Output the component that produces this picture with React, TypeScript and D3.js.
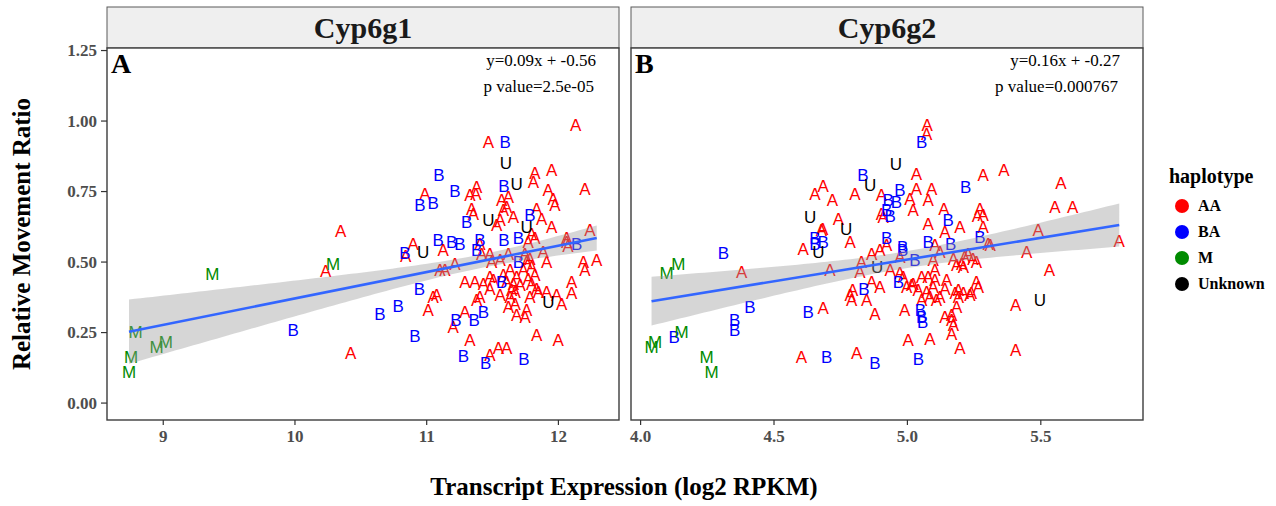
import React from "react";
import * as d3 from "d3";

type Pt = [number, number];

// ---------- legend / categories ----------
const haplotypes = ["AA", "BA", "M", "Unknown"];
const hapLetters = ["A", "B", "M", "U"];
const hapColors = ["#FF0000", "#0000FF", "#008B00", "#000000"];

// ---------- Cyp6g1 (panel A) ----------
const g1M: Pt[] = [[8.79,0.253],[8.95,0.20],[9.02,0.217],[8.755,0.164],[8.74,0.111],[9.372,0.457],[10.29,0.495]];
const g1U: Pt[] = [[10.974,0.536],[11.602,0.852],[11.683,0.776],[11.468,0.648],[11.759,0.625],[11.923,0.359]];
const g1BA: Pt[] = [[9.987,0.261],[10.645,0.318],[10.784,0.344],[10.911,0.237],[10.835,0.533],[10.944,0.406],[11.595,0.926],[11.093,0.808],[11.587,0.769],[11.215,0.752],[10.949,0.702],[11.05,0.71],[11.784,0.666],[11.304,0.642],[12.139,0.566],[11.088,0.578],[11.19,0.572],[11.253,0.566],[11.38,0.542],[11.405,0.578],[11.222,0.294],[11.36,0.294],[11.431,0.324],[11.278,0.167],[11.448,0.141],[11.739,0.155],[11.696,0.584],[11.587,0.578],[11.696,0.501],[11.57,0.43]];
const g1AA: Pt[] = [[10.233,0.469],[10.347,0.611],[10.423,0.178],[10.84,0.521],[10.898,0.566],[11.468,0.926],[12.131,0.985],[11.949,0.828],[11.822,0.816],[11.81,0.784],[12.202,0.761],[11.38,0.766],[11.329,0.737],[11.374,0.743],[10.987,0.743],[11.923,0.755],[11.961,0.725],[11.974,0.702],[11.569,0.722],[11.62,0.731],[11.607,0.696],[11.582,0.684],[11.658,0.66],[11.342,0.69],[11.354,0.672],[11.835,0.69],[11.873,0.654],[11.949,0.625],[11.532,0.631],[11.557,0.648],[11.797,0.601],[12.24,0.613],[12.063,0.584],[11.405,0.566],[11.126,0.542],[11.101,0.471],[11.139,0.471],[11.215,0.495],[11.05,0.377],[11.076,0.383],[11.012,0.33],[11.202,0.27],[11.291,0.324],[11.329,0.223],[11.481,0.17],[11.544,0.194],[11.608,0.194],[11.835,0.241],[11.999,0.223],[12.025,0.351],[12.101,0.389],[12.101,0.43],[11.987,0.383],[11.911,0.394],[12.19,0.501],[12.202,0.471],[12.291,0.507],[12.063,0.572],[12.073,0.556],[11.911,0.501],[11.885,0.536],[11.822,0.585],[11.771,0.572],[11.746,0.53],[11.759,0.501],[11.797,0.483],[11.62,0.53],[11.557,0.507],[11.481,0.53],[11.418,0.53],[11.494,0.501],[11.481,0.448],[11.43,0.424],[11.291,0.43],[11.367,0.43],[11.405,0.377],[11.38,0.365],[11.481,0.406],[11.557,0.383],[11.633,0.377],[11.62,0.341],[11.671,0.353],[11.684,0.312],[11.747,0.306],[11.759,0.33],[11.771,0.442],[11.797,0.424],[11.835,0.406],[11.784,0.377],[11.848,0.394],[11.684,0.448],[11.658,0.424],[11.709,0.418],[11.671,0.394],[11.582,0.454],[11.607,0.43],[11.645,0.40],[11.822,0.454],[11.734,0.471],[11.784,0.513],[11.633,0.471],[11.506,0.436]];

// ---------- Cyp6g2 (panel B) ----------
const g2M: Pt[] = [[4.097,0.46],[4.141,0.495],[4.154,0.253],[4.054,0.217],[4.041,0.2],[4.247,0.164],[4.266,0.111]];
const g2U: Pt[] = [[4.666,0.536],[4.957,0.849],[4.86,0.773],[4.77,0.619],[4.635,0.66],[4.887,0.483],[5.497,0.365]];
const g2BA: Pt[] = [[4.31,0.533],[4.41,0.341],[4.353,0.294],[4.353,0.259],[4.126,0.235],[4.697,0.164],[4.628,0.324],[5.053,0.926],[4.833,0.808],[5.218,0.766],[4.972,0.755],[4.928,0.719],[4.959,0.713],[4.922,0.684],[4.935,0.663],[5.153,0.648],[5.272,0.589],[4.922,0.584],[4.982,0.554],[5.078,0.572],[5.162,0.566],[4.653,0.584],[4.653,0.563],[4.684,0.572],[4.982,0.542],[5.028,0.507],[4.966,0.43],[4.837,0.406],[5.049,0.33],[5.053,0.306],[5.057,0.288],[5.041,0.158],[4.878,0.143]];
const g2AA: Pt[] = [[4.379,0.465],[4.603,0.164],[4.684,0.336],[4.609,0.548],[5.074,0.985],[5.072,0.956],[5.034,0.814],[5.284,0.808],[5.362,0.828],[5.034,0.761],[5.091,0.761],[4.903,0.737],[4.803,0.743],[4.684,0.769],[4.653,0.743],[4.719,0.719],[5.009,0.725],[5.078,0.719],[5.022,0.684],[4.903,0.672],[4.909,0.66],[5.137,0.69],[5.272,0.69],[5.284,0.666],[5.262,0.663],[4.741,0.654],[4.682,0.619],[5.078,0.637],[5.141,0.607],[5.197,0.625],[5.284,0.625],[4.785,0.572],[5.103,0.56],[5.303,0.566],[5.575,0.781],[5.553,0.696],[5.619,0.696],[4.678,0.613],[4.71,0.471],[4.828,0.50],[4.822,0.465],[4.866,0.53],[4.897,0.542],[4.972,0.518],[4.935,0.471],[4.984,0.448],[5.016,0.418],[4.785,0.383],[4.791,0.365],[4.847,0.365],[4.878,0.318],[4.866,0.43],[4.897,0.412],[4.99,0.33],[5.053,0.448],[5.078,0.448],[5.097,0.412],[5.072,0.394],[5.053,0.365],[5.084,0.377],[5.109,0.365],[5.122,0.377],[5.097,0.507],[5.103,0.471],[5.122,0.536],[5.147,0.436],[5.141,0.306],[5.166,0.312],[5.172,0.276],[5.166,0.247],[5.185,0.341],[5.191,0.377],[5.179,0.389],[5.197,0.194],[5.084,0.226],[5.003,0.223],[4.81,0.178],[5.172,0.513],[5.185,0.489],[5.203,0.495],[5.215,0.518],[5.228,0.53],[5.246,0.513],[5.259,0.501],[5.31,0.56],[5.259,0.43],[5.234,0.383],[5.266,0.412],[5.49,0.613],[5.447,0.536],[5.532,0.471],[5.406,0.347],[5.406,0.188],[5.794,0.575],[4.972,0.46],[4.795,0.40],[4.997,0.412],[5.022,0.424],[5.04,0.40],[5.103,0.436],[5.141,0.406],[5.21,0.484],[5.191,0.40],[5.21,0.389],[5.24,0.389],[5.166,0.294],[4.922,0.56]];

// ---------- ticks / titles ----------
const yTicks = [0, 0.25, 0.5, 0.75, 1.0, 1.25];
const g1XTicks = [9, 10, 11, 12];
const g2XTicks = [4.0, 4.5, 5.0, 5.5];
const g1Eq = ["y=0.09x + -0.56", "p value=2.5e-05"];
const g2Eq = ["y=0.16x + -0.27", "p value=0.000767"];

// fitted lm (slope, intercept) and CI half-width parameters
const g1Fit = { slope: 0.0935, intercept: -0.564, xMean: 11.4, seMin: 0.024, seK: 0.0419 };
const g2Fit = { slope: 0.154, intercept: -0.261, xMean: 4.98, seMin: 0.03, seK: 0.0864 };

const SERIF = "'Liberation Serif', 'Times New Roman', Times, serif";
const SANS = "'Liberation Sans', Arial, Helvetica, sans-serif";

const W = 1276, H = 506;
const PANEL_TOP = 48, PANEL_BOTTOM = 420, STRIP_TOP = 7;

const yScale = d3.scaleLinear().domain([-0.06, 1.259]).range([PANEL_BOTTOM, PANEL_TOP]);

type PanelDef = {
  title: string;
  tag: string;
  left: number;
  right: number;
  domain: [number, number];
  ticks: number[];
  fmt: (v: number) => string;
  groups: Pt[][];
  fit: typeof g1Fit;
  eq: string[];
};

const panels: PanelDef[] = [
  { title: "Cyp6g1", tag: "A", left: 107, right: 619, domain: [8.573, 12.46], ticks: g1XTicks, fmt: d3.format("d"), groups: [g1AA, g1BA, g1M, g1U], fit: g1Fit, eq: g1Eq },
  { title: "Cyp6g2", tag: "B", left: 631, right: 1143, domain: [3.964, 5.883], ticks: g2XTicks, fmt: d3.format(".1f"), groups: [g2AA, g2BA, g2M, g2U], fit: g2Fit, eq: g2Eq },
];

function Panel({ p }: { p: PanelDef }) {
  const x = d3.scaleLinear().domain(p.domain).range([p.left, p.right]);
  const all = p.groups.flat();
  const [xmin, xmax] = d3.extent(all, (d) => d[0]) as [number, number];
  const xs = d3.range(0, 81).map((i) => xmin + ((xmax - xmin) * i) / 80);
  const f = p.fit;
  const hw = (v: number) => Math.sqrt(f.seMin * f.seMin + f.seK * f.seK * (v - f.xMean) * (v - f.xMean));
  const band = d3
    .area<number>()
    .x((v) => x(v))
    .y0((v) => yScale(f.intercept + f.slope * v - hw(v)))
    .y1((v) => yScale(f.intercept + f.slope * v + hw(v)))(xs) as string;
  const line = d3
    .line<number>()
    .x((v) => x(v))
    .y((v) => yScale(f.intercept + f.slope * v))([xmin, xmax]) as string;
  const cx = (p.left + p.right) / 2;
  return (
    <g>
      {/* strip */}
      <rect x={p.left} y={STRIP_TOP} width={p.right - p.left} height={PANEL_TOP - STRIP_TOP} fill="#EFEFEF" stroke="#5a5a5a" strokeWidth={1} />
      <text x={cx} y={38} textAnchor="middle" fontFamily={SERIF} fontWeight="bold" fontSize={30} fill="#1a1a1a">{p.title}</text>
      {/* panel */}
      <rect x={p.left} y={PANEL_TOP} width={p.right - p.left} height={PANEL_BOTTOM - PANEL_TOP} fill="#FFFFFF" />
      {p.groups.map((g, gi) => (
        <g key={gi} fill={hapColors[gi]} fontFamily={SANS} fontSize={17} textAnchor="middle">
          {g.map((d, i) => (
            <text key={i} x={x(d[0])} y={yScale(d[1])} dy="0.36em">{hapLetters[gi]}</text>
          ))}
        </g>
      ))}
      <path d={band} fill="#999999" fillOpacity={0.4} stroke="none" />
      <path d={line} fill="none" stroke="#3366FF" strokeWidth={2.6} />
      <text x={p.left + 4} y={73} fontFamily={SERIF} fontWeight="bold" fontSize={28} fill="#000">{p.tag}</text>
      <text x={p.right - 23} y={66} textAnchor="end" fontFamily={SERIF} fontSize={17} fill="#000">{p.eq[0]}</text>
      <text x={p.right - 25} y={91.5} textAnchor="end" fontFamily={SERIF} fontSize={17} fill="#000">{p.eq[1]}</text>
      <rect x={p.left} y={PANEL_TOP} width={p.right - p.left} height={PANEL_BOTTOM - PANEL_TOP} fill="none" stroke="#3c3c3c" strokeWidth={1.4} />
      {/* x axis ticks */}
      {p.ticks.map((t) => (
        <g key={t}>
          <line x1={x(t)} x2={x(t)} y1={PANEL_BOTTOM} y2={PANEL_BOTTOM + 5} stroke="#333" strokeWidth={1.2} />
          <text x={x(t)} y={441.5} textAnchor="middle" fontFamily={SERIF} fontWeight="bold" fontSize={17} fill="#4D4D4D">{p.fmt(t)}</text>
        </g>
      ))}
    </g>
  );
}

export default function App() {
  const yFmt = d3.format(".2f");
  return (
    <svg width={W} height={H} style={{ position: "absolute", left: 0, top: 0, background: "#fff" }}>
      <rect x={0} y={0} width={W} height={H} fill="#fff" />
      {panels.map((p) => (
        <Panel key={p.tag} p={p} />
      ))}
      {/* y axis on left panel */}
      {yTicks.map((t) => (
        <g key={t}>
          <line x1={101} x2={107} y1={yScale(t)} y2={yScale(t)} stroke="#333" strokeWidth={1.2} />
          <text x={97} y={yScale(t)} dy="0.34em" textAnchor="end" fontFamily={SERIF} fontWeight="bold" fontSize={17} fill="#4D4D4D">{yFmt(t)}</text>
        </g>
      ))}
      <text transform={`translate(30,234) rotate(-90)`} textAnchor="middle" fontFamily={SERIF} fontWeight="bold" fontSize={25} fill="#000">Relative Movement Ratio</text>
      <text x={624} y={495} textAnchor="middle" fontFamily={SERIF} fontWeight="bold" fontSize={25} fill="#000">Transcript Expression (log2 RPKM)</text>
      {/* legend */}
      <text x={1169} y={183} fontFamily={SERIF} fontWeight="bold" fontSize={20} fill="#000">haplotype</text>
      {haplotypes.map((h, i) => (
        <g key={h}>
          <circle cx={1182} cy={206 + i * 26} r={7} fill={hapColors[i]} />
          <text x={1198} y={206 + i * 26} dy="0.33em" fontFamily={SERIF} fontWeight="bold" fontSize={16} fill="#000">{h}</text>
        </g>
      ))}
    </svg>
  );
}
